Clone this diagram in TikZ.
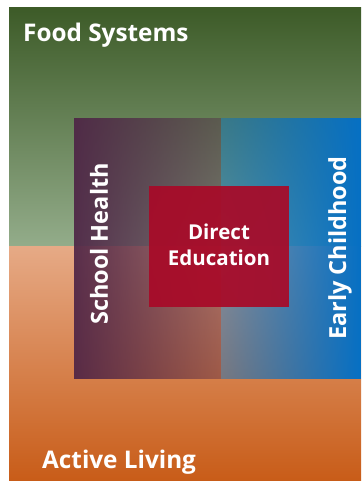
\documentclass[tikz,border=0pt]{standalone}
\usepackage{fontspec}
\setmainfont{Open Sans}
\usetikzlibrary{fadings}
\definecolor{gtop}{HTML}{3D5B28}
\definecolor{gbot}{HTML}{93AC8A}
\definecolor{otop}{HTML}{E6AA86}
\definecolor{obot}{HTML}{C85C18}
\definecolor{purp}{HTML}{4E2446}
\definecolor{blu}{HTML}{0670C4}
\definecolor{redbox}{HTML}{A80A28}
\tikzfading[name=purpfade, left color=transparent!8, right color=transparent!60]
\tikzfading[name=blufade, left color=transparent!55, right color=transparent!0]
\tikzset{
  lbl/.style={text=white, font=\bfseries\fontsize{24.3}{28}\selectfont, inner sep=0pt},
  sidelbl/.style={text=white, font=\bfseries\fontsize{23.5}{27}\selectfont, inner sep=0pt, rotate=90},
  centerlbl/.style={text=white, font=\bfseries\fontsize{20.5}{26}\selectfont, inner sep=0pt, align=center}
}
\begin{document}
\begin{tikzpicture}[x=1pt,y=-1pt]
\useasboundingbox (0,0) rectangle (361,481);
\fill[white] (0,0) rectangle (361,481);
% background halves
\shade[top color=gtop, bottom color=gbot] (9,8) rectangle (361,246);
\shade[top color=otop, bottom color=obot] (9,246) rectangle (361,481);
% inner quadrants
\fill[purp, path fading=purpfade] (74,118) rectangle (221,379);
\fill[blu, path fading=blufade] (221,118) rectangle (361,379);
% centre box
\fill[redbox, opacity=0.93] (149,186) rectangle (289,307);
% labels
\node[lbl, anchor=base west] (food) at (23,42) {Food Systems};
\node[lbl, anchor=base west] (active) at (42,468) {Active Living};
\node[sidelbl] (school) at (99,244) {School Health};
\node[sidelbl] (early) at (340,248) {Early Childhood};
\node[centerlbl] (direct) at (219,245) {Direct\\Education};
\end{tikzpicture}
\end{document}
